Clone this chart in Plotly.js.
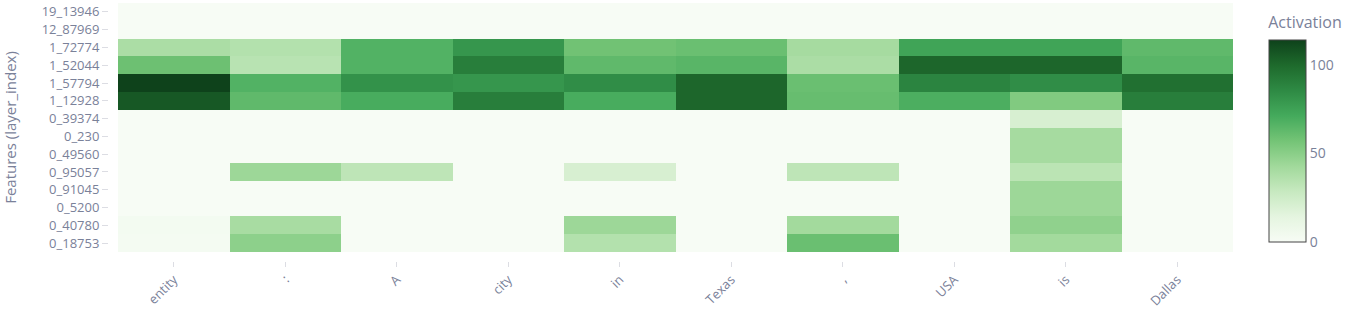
<!DOCTYPE html>
<html>
<head>
<meta charset="utf-8">
<script src="https://cdn.plot.ly/plotly-3.0.1.min.js"></script>
<style>
  html, body { margin: 0; padding: 0; background: #fff; }
  #chart { width: 1346px; height: 315px; }
</style>
</head>
<body>
<div id="chart"></div>
<script>
// Tokens of the prompt (x axis)
const tokens = ['entity', ':', 'A', 'city', 'in', 'Texas', ',', 'USA', 'is', 'Dallas'];

// Features listed top to bottom (layer_index)
const features = ['19_13946', '12_87969', '1_72774', '1_52044', '1_57794', '1_12928',
                  '0_39374', '0_230', '0_49560', '0_95057', '0_91045', '0_5200', '0_40780', '0_18753'];

// Activation of each feature on each token
const f19_13946 = [0, 0, 0, 0, 0, 0, 0, 0, 0, 0];
const f12_87969 = [0, 0, 0, 0, 0, 0, 0, 0, 0, 0];
const f1_72774  = [39, 36, 67, 80, 58, 60, 41, 74, 74, 63];
const f1_52044  = [59, 34, 67, 91, 63, 65, 39, 101, 101, 65];
const f1_57794  = [114, 67, 82, 80, 84, 101, 60, 88, 84, 97];
const f1_12928  = [106, 63, 70, 91, 70, 101, 61, 69, 53, 91];
const f0_39374  = [0, 0, 0, 0, 0, 0, 0, 0, 21, 0];
const f0_230    = [0, 0, 0, 0, 0, 0, 0, 0, 41, 0];
const f0_49560  = [0, 0, 0, 0, 0, 0, 0, 0, 41, 0];
const f0_95057  = [0, 44, 32, 0, 21, 0, 32, 0, 33, 0];
const f0_91045  = [0, 0, 0, 0, 0, 0, 0, 0, 44, 0];
const f0_5200   = [0, 0, 0, 0, 0, 0, 0, 0, 44, 0];
const f0_40780  = [3, 40, 0, 0, 44, 0, 42, 0, 48, 0];
const f0_18753  = [2, 49, 0, 0, 36, 0, 60, 0, 42, 0];

const z = [f19_13946, f12_87969, f1_72774, f1_52044, f1_57794, f1_12928,
           f0_39374, f0_230, f0_49560, f0_95057, f0_91045, f0_5200, f0_40780, f0_18753];

// Sequential greens, light at zero, with a slightly softer dark end
const greens = [
  [0, 'rgb(247,252,245)'], [0.125, 'rgb(229,245,224)'], [0.25, 'rgb(199,233,192)'],
  [0.375, 'rgb(161,217,155)'], [0.5, 'rgb(116,196,118)'], [0.625, 'rgb(68,170,92)'],
  [0.75, 'rgb(46,138,68)'], [0.875, 'rgb(30,106,44)'], [1, 'rgb(14,66,27)']
];

const textColor = '#7a8199';
const fontFamily = '"Open Sans", "Noto Sans", Arial, sans-serif';

const trace = {
  type: 'heatmap',
  x: tokens,
  y: features,
  z: z,
  colorscale: greens,
  zmin: 0,
  zmax: 114,
  colorbar: {
    title: { text: 'Activation', side: 'top', font: { size: 16, color: textColor } },
    x: 1.023,
    thickness: 37,
    outlinecolor: '#444',
    outlinewidth: 1,
    tickvals: [0, 50, 100],
    tickfont: { size: 14, color: textColor },
    ticks: ''
  },
  hovertemplate: '%{x}<br>%{y}: %{z}<extra></extra>'
};

const layout = {
  width: 1346,
  height: 315,
  margin: { l: 118, r: 113, t: 3, b: 63, autoexpand: false },
  paper_bgcolor: '#fff',
  plot_bgcolor: '#fff',
  font: { family: fontFamily, size: 13, color: textColor },
  xaxis: {
    type: 'category',
    tickangle: -45,
    ticks: 'outside',
    ticklen: 5,
    tickcolor: '#dcdde3',
    showline: true,
    linecolor: '#fff',
    linewidth: 10,
    showgrid: false,
    zeroline: false,
    tickfont: { size: 13, color: textColor }
  },
  yaxis: {
    type: 'category',
    autorange: 'reversed',
    ticks: 'outside',
    ticklen: 6,
    tickcolor: '#dcdde3',
    showline: true,
    linecolor: '#fff',
    linewidth: 10,
    showgrid: false,
    zeroline: false,
    tickfont: { size: 13, color: textColor },
    title: { text: 'Features (layer_index)', standoff: 31, font: { size: 15, color: textColor } }
  }
};

Plotly.newPlot('chart', [trace], layout, { displayModeBar: false, staticPlot: true });
</script>
</body>
</html>
